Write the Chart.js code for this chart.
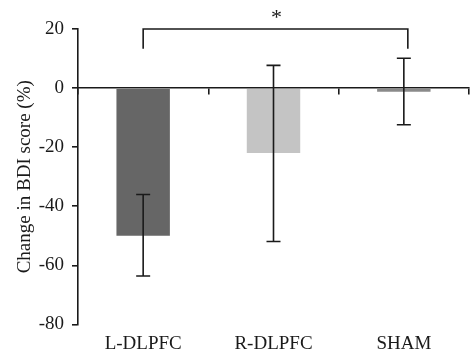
<!DOCTYPE html>
<html>
<head>
<meta charset="utf-8">
<script src="https://cdn.jsdelivr.net/npm/chart.js@4/dist/chart.umd.min.js"></script>
<style>
  html, body { margin: 0; padding: 0; background: #fff; }
  #wrap { width: 470px; height: 356px; }
</style>
</head>
<body>
<div id="wrap"><canvas id="bdi_chart"></canvas></div>
<script>
// values
const groups = ['L-DLPFC', 'R-DLPFC', 'SHAM'];
const meanChange = [-50, -22, -1.2];
const errUpper = [-36, 7.7, 10.1];
const errLower = [-63.6, -51.9, -12.4];
const barColors = ['#666666', '#c4c4c4', '#8a8a8a'];
const yTicks = [20, 0, -20, -40, -60, -80];

// significance bracket: from group 0 to group 2, top at 20, legs down to 13.3
const sigFrom = 0;
const sigTo = 2;
const sigTop = 20;
const sigLeg = 13.3;
const sigLabel = '*';

const ink = '#1a1a1a';
const serif = '"Liberation Serif", "Times New Roman", serif';

const errorBars = {
    id: 'errorBars',
    afterDatasetsDraw(chart) {
        const ctx = chart.ctx;
        const x = chart.scales.x;
        const y = chart.scales.y;
        ctx.save();
        ctx.strokeStyle = ink;
        ctx.lineWidth = 1.6;
        groups.forEach((g, i) => {
            const px = x.getPixelForValue(i);
            const top = y.getPixelForValue(errUpper[i]);
            const bot = y.getPixelForValue(errLower[i]);
            ctx.beginPath();
            ctx.moveTo(px, top);
            ctx.lineTo(px, bot);
            ctx.moveTo(px - 7, top);
            ctx.lineTo(px + 7, top);
            ctx.moveTo(px - 7, bot);
            ctx.lineTo(px + 7, bot);
            ctx.stroke();
        });
        ctx.restore();
    },
    afterDraw(chart) {
        const ctx = chart.ctx;
        const x = chart.scales.x;
        const y = chart.scales.y;
        const x1 = x.getPixelForValue(sigFrom);
        const x2 = x.getPixelForValue(sigTo) + 4;
        const top = y.getPixelForValue(sigTop);
        const leg = y.getPixelForValue(sigLeg);
        ctx.save();
        ctx.strokeStyle = ink;
        ctx.lineWidth = 1.6;
        ctx.beginPath();
        ctx.moveTo(x1, leg);
        ctx.lineTo(x1, top);
        ctx.lineTo(x2, top);
        ctx.lineTo(x2, leg);
        ctx.stroke();
        ctx.fillStyle = ink;
        ctx.font = '22px ' + serif;
        ctx.textAlign = 'center';
        ctx.textBaseline = 'middle';
        ctx.fillText(sigLabel, (x1 + x2) / 2 + 1, top - 11);
        ctx.restore();
    }
};

const ctx = document.getElementById('bdi_chart').getContext('2d');

new Chart(ctx, {
    type: 'bar',
    data: {
        labels: groups,
        datasets: [{
            data: meanChange,
            backgroundColor: barColors,
            borderWidth: 0,
            categoryPercentage: 1,
            barPercentage: 0.41,
        }],
    },
    options: {
        responsive: true,
        maintainAspectRatio: false,
        animation: false,
        layout: {
            padding: { top: 29, right: 1, bottom: 0, left: 0 },
        },
        plugins: {
            legend: { display: false },
            tooltip: { enabled: false },
        },
        scales: {
            x: {
                position: 'bottom',
                border: { display: false },
                grid: { display: false, drawTicks: false },
                ticks: {
                    color: ink,
                    font: { family: serif, size: 19 },
                    padding: 8,
                    maxRotation: 0,
                },
                afterFit(scale) { scale.height = 31.5; },
            },
            xZero: {
                type: 'category',
                position: { y: 0 },
                offset: true,
                border: { display: true, color: ink, width: 1.6 },
                grid: {
                    offset: true,
                    drawOnChartArea: false,
                    drawTicks: true,
                    tickLength: 6,
                    color: ink,
                    lineWidth: 1.6,
                },
                ticks: { display: false },
            },
            y: {
                min: -80,
                max: 20,
                afterBuildTicks(scale) {
                    scale.ticks = yTicks.map(v => ({ value: v }));
                },
                afterFit(scale) { scale.width = 78; },
                border: { display: true, color: ink, width: 1.6 },
                grid: {
                    drawOnChartArea: false,
                    drawTicks: true,
                    tickLength: 6,
                    color: ink,
                    lineWidth: 1.6,
                },
                ticks: {
                    color: ink,
                    font: { family: serif, size: 19 },
                    padding: 8,
                },
                title: {
                    display: true,
                    text: 'Change in BDI score (%)',
                    color: ink,
                    font: { family: serif, size: 19 },
                    padding: { top: 14, bottom: 0 },
                },
            },
        },
    },
    plugins: [errorBars],
});
</script>
</body>
</html>
